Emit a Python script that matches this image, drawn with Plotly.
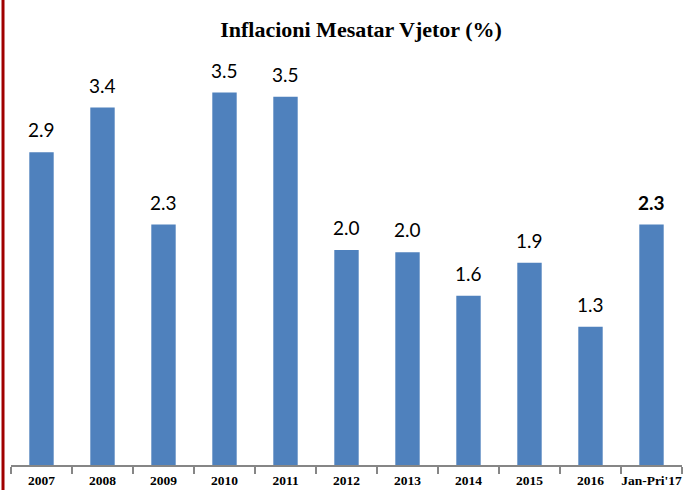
import plotly.graph_objects as go

categories = ["2007", "2008", "2009", "2010", "2011", "2012", "2013", "2014", "2015", "2016", "Jan-Pri'17"]
values = [2.94, 3.36, 2.26, 3.50, 3.46, 2.02, 2.00, 1.59, 1.90, 1.30, 2.26]
title_text = "Inflacioni Mesatar Vjetor (%)"

labels = [f"{v:.1f}" for v in values]
labels[-1] = f"<b>{labels[-1]}</b>"

W, H = 686, 490
ml, mr, mt, mb = 10.5, 3.5, 60, 25
pw, ph = W - ml - mr, H - mt - mb

fig = go.Figure()
fig.add_trace(go.Bar(
    x=categories, y=values,
    marker=dict(color="#4F81BD", line=dict(width=0)),
    width=0.4, hoverinfo="x+y",
))

annotations = [
    dict(x=i, y=v, xref="x", yref="y", text=t, showarrow=False,
         xanchor="center", yanchor="bottom", yshift=9,
         font=dict(family="Lato, Open Sans, sans-serif", size=19, color="#000000"))
    for i, (v, t) in enumerate(zip(values, labels))
]

fig.update_layout(
    width=W, height=H,
    margin=dict(l=ml, r=mr, t=mt, b=mb, autoexpand=False),
    paper_bgcolor="white", plot_bgcolor="white",
    showlegend=False,
    title=dict(text=f"<b>{title_text}</b>", xref="container", x=361 / W,
               xanchor="center", yref="container", y=1 - 29 / H, yanchor="middle",
               font=dict(family="Liberation Serif, DejaVu Serif, serif", size=22, color="#000000")),
    xaxis=dict(
        type="category", categoryorder="array", categoryarray=categories,
        range=[-0.5, len(categories) - 0.5],
        showgrid=False, zeroline=False, automargin=False,
        showline=True, linecolor="#868686", linewidth=1.5,
        ticks="outside", tickson="boundaries", ticklen=7, tickcolor="#868686", tickwidth=1.5,
        tickangle=0, ticklabelstandoff=2,
        tickfont=dict(family="Liberation Serif, DejaVu Serif, serif", size=13.5, color="#000000"),
        tickprefix="<b>", ticksuffix="</b>",
    ),
    yaxis=dict(range=[0, (465 - mt) / 106.4], visible=False, showgrid=False, zeroline=False,
               automargin=False),
    annotations=annotations,
    shapes=[dict(type="line", xref="paper", yref="paper",
                 x0=(2.5 - ml) / pw, x1=(2.5 - ml) / pw,
                 y0=-mb / ph, y1=(H - mb) / ph,
                 line=dict(color="#A00000", width=3))],
)

fig.write_html("out.html", config={"displayModeBar": False},
               post_script="document.body.style.margin='0';document.body.style.overflow='hidden';")
